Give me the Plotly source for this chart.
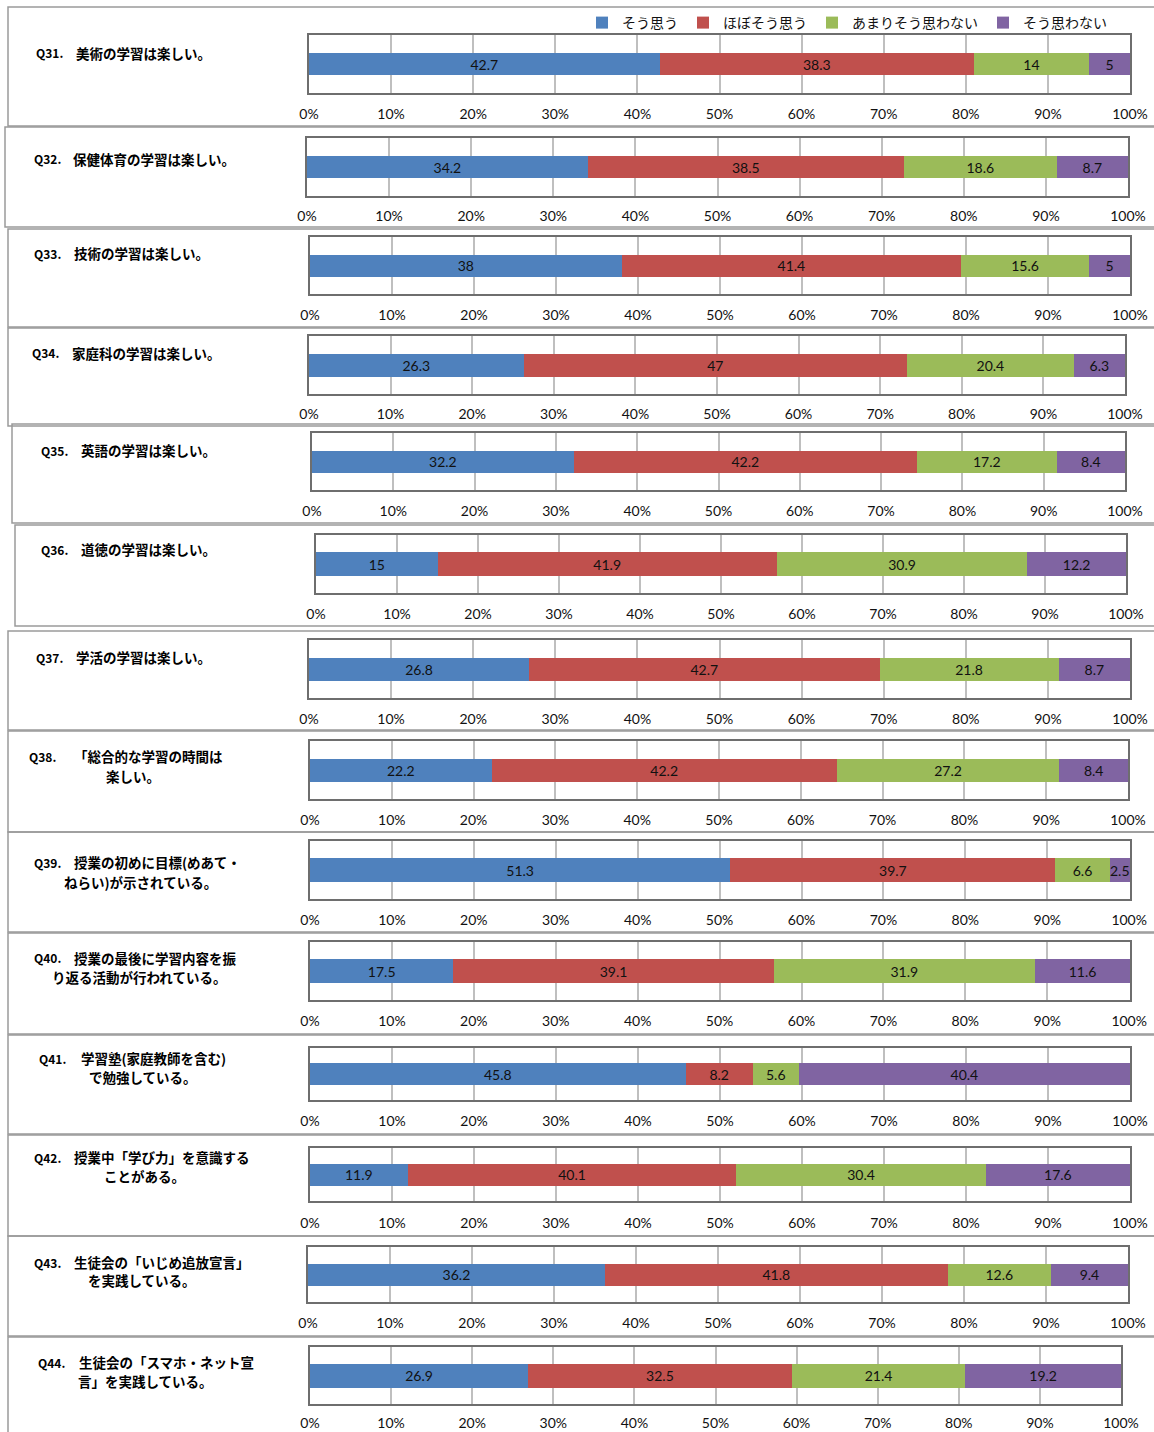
import plotly.graph_objects as go

W, H = 1154, 1432

series_names = ["そう思う", "ほぼそう思う", "あまりそう思わない", "そう思わない"]
colors = ["#4F81BD", "#C0504D", "#9BBB59", "#8064A2"]

questions = ["Q31", "Q32", "Q33", "Q34", "Q35", "Q36", "Q37",
             "Q38", "Q39", "Q40", "Q41", "Q42", "Q43", "Q44"]

sou_omou = [42.7, 34.2, 38, 26.3, 32.2, 15, 26.8, 22.2, 51.3, 17.5, 45.8, 11.9, 36.2, 26.9]
hobo_sou = [38.3, 38.5, 41.4, 47, 42.2, 41.9, 42.7, 42.2, 39.7, 39.1, 8.2, 40.1, 41.8, 32.5]
amari = [14, 18.6, 15.6, 20.4, 17.2, 30.9, 21.8, 27.2, 6.6, 31.9, 5.6, 30.4, 12.6, 21.4]
sou_omowanai = [5, 8.7, 5, 6.3, 8.4, 12.2, 8.7, 8.4, 2.5, 11.6, 40.4, 17.6, 9.4, 19.2]

label_lines = [
    ["美術の学習は楽しい。"],
    ["保健体育の学習は楽しい。"],
    ["技術の学習は楽しい。"],
    ["家庭科の学習は楽しい。"],
    ["英語の学習は楽しい。"],
    ["道徳の学習は楽しい。"],
    ["学活の学習は楽しい。"],
    ["「総合的な学習の時間は", "楽しい。"],
    ["授業の初めに目標(めあて・", "ねらい)が示されている。"],
    ["授業の最後に学習内容を振", "り返る活動が行われている。"],
    ["学習塾(家庭教師を含む)", "で勉強している。"],
    ["授業中「学び力」を意識する", "ことがある。"],
    ["生徒会の「いじめ追放宣言」", "を実践している。"],
    ["生徒会の「スマホ・ネット宣", "言」を実践している。"],
]

tick_vals = [0, 10, 20, 30, 40, 50, 60, 70, 80, 90, 100]
tick_labels = ["0%", "10%", "20%", "30%", "40%", "50%", "60%", "70%", "80%", "90%", "100%"]

# panel geometry in pixels:
# frame_left, frame_top, frame_bottom, plot_l, plot_r, plot_t, plot_b, bar_h, tick_gap
geom = [
    (8, 7, 126, 309, 1130, 35, 93, 22, 7),
    (5, 127, 227, 307, 1128, 138, 196, 22, 6),
    (8, 229, 327, 310, 1130, 237, 294, 22, 7),
    (8, 328, 426, 309, 1125, 336, 394, 23, 6),
    (12, 424, 523, 312, 1125, 433, 490, 22, 7),
    (15, 525, 626, 316, 1126, 535, 593, 24, 7),
    (8, 631, 730, 309, 1130, 640, 698, 23, 7),
    (8, 731, 832, 310, 1128, 741, 799, 23, 7),
    (8, 832, 932, 310, 1130, 841, 899, 24, 7),
    (8, 933, 1034, 310, 1130, 942, 1000, 24, 7),
    (8, 1035, 1134, 310, 1130, 1048, 1100, 22, 7),
    (8, 1135, 1236, 310, 1130, 1148, 1201, 22, 8),
    (8, 1236, 1336, 308, 1128, 1247, 1302, 22, 7),
    (8, 1337, 1445, 310, 1121, 1347, 1404, 24, 5),
]
# label positions: q_x, text_x, line1_y, line2_x, line2_y
label_pos = [
    (34, 74, 53, None, None),
    (32, 71, 159, None, None),
    (32, 72, 253, None, None),
    (30, 70, 353, None, None),
    (39, 79, 450, None, None),
    (39, 79, 549, None, None),
    (34, 74, 657, None, None),
    (27, 72, 756, 104, 776),
    (32, 72, 862, 62, 882),
    (32, 72, 958, 50, 977),
    (37, 79, 1058, 87, 1077),
    (32, 72, 1157, 102, 1176),
    (32, 72, 1262, 86, 1280),
    (36, 77, 1362, 76, 1381),
]

def px(x):
    return x / W

def py(y):
    return 1 - y / H

values = [sou_omou, hobo_sou, amari, sou_omowanai]
num_font = "Lato, 'Open Sans', sans-serif"
jp_font = "'Noto Sans CJK JP', sans-serif"

fig = go.Figure()
layout = {}
shapes = []
annotations = []

for i, q in enumerate(questions):
    n = "" if i == 0 else str(i + 1)
    fl, ft, fb, pl, pr, pt, pb, bh, tg = geom[i]
    total = sum(v[i] for v in values)
    xmax = max(100.0, total) + 1e-6
    for s in range(4):
        fig.add_trace(go.Bar(
            x=[values[s][i]], y=[0], orientation="h",
            name=series_names[s], marker_color=colors[s],
            marker_line_width=0,
            width=bh / (pb - pt),
            text=[values[s][i]], texttemplate="%{text}",
            textposition="inside", insidetextanchor="middle", textangle=0,
            constraintext="none", cliponaxis=False,
            textfont=dict(color="#111111", size=14, family=num_font),
            showlegend=(i == 0), legendgroup=series_names[s],
            xaxis="x" + n, yaxis="y" + n, hoverinfo="skip",
        ))
    layout["xaxis" + n] = dict(
        domain=[px(pl), px(pr)], anchor="y" + n, range=[0, xmax],
        tickvals=tick_vals, ticktext=tick_labels,
        showgrid=True, gridcolor="#BFBFBF", gridwidth=1.5,
        zeroline=False, showline=True, mirror=True, linecolor="#6E6E6E", linewidth=1.5,
        ticks="outside", ticklen=tg, tickcolor="rgba(0,0,0,0)",
        tickfont=dict(size=14, family=num_font, color="#111111"),
        fixedrange=True, automargin=False,
    )
    layout["yaxis" + n] = dict(
        domain=[py(pb), py(pt)], anchor="x" + n, range=[-0.5, 0.5],
        showticklabels=False, showgrid=False, zeroline=False,
        showline=True, mirror=True, linecolor="#6E6E6E", linewidth=1.5,
        fixedrange=True, automargin=False,
    )
    shapes.append(dict(type="rect", xref="paper", yref="paper",
                       x0=px(fl), x1=px(W + 20), y0=py(fb), y1=py(ft),
                       line=dict(color="#9A9A9A", width=1.5), layer="below"))
    qx, tx, ly, l2x, l2y = label_pos[i]
    annotations.append(dict(xref="paper", yref="paper", x=px(qx), y=py(ly),
                            xanchor="left", yanchor="middle", showarrow=False,
                            text="<b>" + q + ".</b>",
                            font=dict(size=12, family=jp_font, color="#000000")))
    annotations.append(dict(xref="paper", yref="paper", x=px(tx), y=py(ly),
                            xanchor="left", yanchor="middle", showarrow=False,
                            text="<b>" + label_lines[i][0] + "</b>",
                            font=dict(size=13.5, family=jp_font, color="#000000")))
    if len(label_lines[i]) > 1:
        annotations.append(dict(xref="paper", yref="paper", x=px(l2x), y=py(l2y),
                                xanchor="left", yanchor="middle", showarrow=False,
                                text="<b>" + label_lines[i][1] + "</b>",
                                font=dict(size=13.5, family=jp_font, color="#000000")))

fig.update_layout(
    width=W, height=H,
    margin=dict(l=0, r=0, t=0, b=0, autoexpand=False),
    paper_bgcolor="white", plot_bgcolor="white",
    barmode="stack",
    uniformtext=dict(minsize=14, mode="show"),
    showlegend=True,
    legend=dict(orientation="h", x=px(582), y=py(7), xanchor="left", yanchor="top",
                font=dict(size=14, family=jp_font, color="#111111"),
                itemwidth=30, traceorder="normal", bgcolor="rgba(0,0,0,0)"),
    shapes=shapes, annotations=annotations,
    **layout,
)

fig.write_html("out.html", config={"displayModeBar": False},
               post_script="document.body.style.margin='0';document.body.style.overflow='hidden';")
